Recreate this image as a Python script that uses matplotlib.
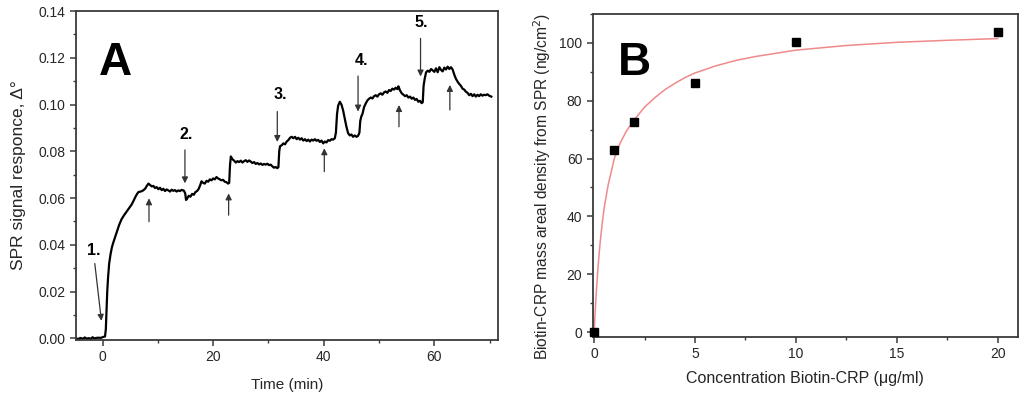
import matplotlib
matplotlib.use("Agg")
import matplotlib.pyplot as plt
from matplotlib.ticker import MultipleLocator, FormatStrFormatter

plt.rcParams['font.family'] = ['Liberation Sans', 'DejaVu Sans']

# ---------------------------------------------------------------
# Panel A: SPR sensorgram (time in min, signal in degrees)
# ---------------------------------------------------------------
time_min = [
    -4.8, -4.4, -4.0, -3.6, -3.2, -2.9, -2.5, -2.1, -1.8, -1.5, -1.1, -0.7, -0.3, 0.1, 0.45,
    0.6, 0.72, 0.85, 1.0, 1.2, 1.45, 1.7, 1.95, 2.3, 2.65, 3.0, 3.45, 3.9, 4.35, 4.8,
    5.25, 5.6, 5.9, 6.25, 6.5, 6.9, 7.3, 7.7, 8.0, 8.3, 8.6, 8.9, 9.2, 9.5, 9.8,
    10.1, 10.4, 10.7, 11.0, 11.3, 11.6, 11.9, 12.2, 12.5, 12.8, 13.1, 13.4, 13.7, 14.0, 14.3,
    14.7, 14.95, 15.1, 15.3, 15.6, 15.9, 16.2, 16.5, 16.8, 17.1, 17.4, 17.7, 17.9, 18.2, 18.5,
    18.8, 19.1, 19.4, 19.7, 20.0, 20.3, 20.6, 20.9, 21.2, 21.5, 21.8, 22.1, 22.4, 22.7, 22.9,
    23.05, 23.2, 23.5, 23.8, 24.1, 24.4, 24.7, 25.0, 25.3, 25.6, 25.9, 26.2, 26.5, 26.8, 27.1,
    27.4, 27.7, 28.0, 28.3, 28.6, 28.9, 29.2, 29.5, 29.8, 30.1, 30.4, 30.7, 31.0, 31.3, 31.6,
    31.8, 31.95, 32.1, 32.4, 32.7, 33.0, 33.3, 33.6, 33.9, 34.2, 34.5, 34.8, 35.1, 35.4, 35.7,
    36.0, 36.3, 36.6, 36.9, 37.2, 37.5, 37.8, 38.1, 38.4, 38.7, 39.0, 39.3, 39.6, 39.9, 40.2,
    40.5, 40.8, 41.1, 41.4, 41.7, 42.0, 42.2, 42.4, 42.6, 42.9, 43.2, 43.5, 43.8, 44.1, 44.4,
    44.7, 45.0, 45.3, 45.6, 45.9, 46.2, 46.45, 46.6, 46.8, 47.0, 47.3, 47.6, 47.9, 48.2, 48.5,
    48.8, 49.1, 49.4, 49.7, 50.0, 50.3, 50.6, 50.9, 51.2, 51.5, 51.8, 52.1, 52.4, 52.7, 53.0,
    53.3, 53.5, 53.8, 54.1, 54.4, 54.7, 55.0, 55.3, 55.6, 55.9, 56.2, 56.5, 56.8, 57.1, 57.4,
    57.7, 57.9, 58.05, 58.25, 58.5, 58.8, 59.1, 59.4, 59.7, 60.0, 60.3, 60.6, 60.9, 61.2, 61.5,
    61.8, 62.1, 62.4, 62.7, 63.0, 63.3, 63.6, 63.9, 64.2, 64.5, 64.8, 65.1, 65.4, 65.7, 66.0,
    66.3, 66.6, 66.9, 67.2, 67.5, 67.8, 68.1, 68.4, 68.7, 69.0, 69.3, 69.6, 69.9, 70.3,
]
spr_signal = [
    0.0000, -0.0003, 0.0002, -0.0002, 0.0004, -0.0001, 0.0001, -0.0002, 0.0005, 0.0000, 0.0002, 0.0003, 0.0002, 0.0006, 0.0008,
    0.0040, 0.0120, 0.0200, 0.0260, 0.0320, 0.0360, 0.0390, 0.0410, 0.0435, 0.0460, 0.0485, 0.0510, 0.0527, 0.0542, 0.0557,
    0.0572, 0.0588, 0.0603, 0.0618, 0.0626, 0.0628, 0.0632, 0.0640, 0.0652, 0.0662, 0.0656, 0.0650, 0.0652, 0.0643, 0.0647,
    0.0638, 0.0644, 0.0634, 0.0640, 0.0630, 0.0637, 0.0633, 0.0628, 0.0636, 0.0631, 0.0634, 0.0628, 0.0633, 0.0630, 0.0635,
    0.0632, 0.0620, 0.0592, 0.0598, 0.0610, 0.0606, 0.0618, 0.0614, 0.0626, 0.0630, 0.0640, 0.0658, 0.0672, 0.0665, 0.0662,
    0.0674, 0.0670, 0.0680, 0.0676, 0.0684, 0.0680, 0.0690, 0.0684, 0.0680, 0.0676, 0.0678, 0.0670, 0.0668, 0.0662, 0.0665,
    0.0740, 0.0778, 0.0766, 0.0760, 0.0752, 0.0758, 0.0754, 0.0760, 0.0752, 0.0758, 0.0762, 0.0755, 0.0761, 0.0756, 0.0750,
    0.0754, 0.0746, 0.0750, 0.0744, 0.0748, 0.0742, 0.0746, 0.0743, 0.0747, 0.0741, 0.0743, 0.0736, 0.0730, 0.0733, 0.0728,
    0.0732, 0.0800, 0.0822, 0.0826, 0.0834, 0.0830, 0.0842, 0.0848, 0.0858, 0.0862, 0.0856, 0.0862, 0.0852, 0.0858, 0.0850,
    0.0856, 0.0846, 0.0852, 0.0844, 0.0850, 0.0842, 0.0850, 0.0846, 0.0852, 0.0845, 0.0849, 0.0840, 0.0846, 0.0834, 0.0842,
    0.0838, 0.0848, 0.0845, 0.0852, 0.0850, 0.0856, 0.0880, 0.0960, 0.0995, 0.1012, 0.1000, 0.0975, 0.0940, 0.0905, 0.0878,
    0.0868, 0.0872, 0.0862, 0.0868, 0.0862, 0.0866, 0.0880, 0.0930, 0.0950, 0.0960, 0.0990, 0.1005, 0.1018, 0.1025, 0.1030,
    0.1026, 0.1036, 0.1040, 0.1034, 0.1044, 0.1048, 0.1042, 0.1052, 0.1056, 0.1050, 0.1062, 0.1058, 0.1068, 0.1064, 0.1072,
    0.1066, 0.1078, 0.1060, 0.1048, 0.1042, 0.1036, 0.1040, 0.1030, 0.1034, 0.1025, 0.1030, 0.1020, 0.1024, 0.1012, 0.1016,
    0.1006, 0.1010, 0.1080, 0.1110, 0.1138, 0.1145, 0.1140, 0.1152, 0.1146, 0.1140, 0.1155, 0.1138, 0.1160, 0.1148, 0.1142,
    0.1158, 0.1150, 0.1162, 0.1152, 0.1160, 0.1150, 0.1128, 0.1110, 0.1098, 0.1088, 0.1080, 0.1068, 0.1064, 0.1055, 0.1050,
    0.1040, 0.1046, 0.1036, 0.1044, 0.1034, 0.1042, 0.1036, 0.1044, 0.1038, 0.1042, 0.1040, 0.1044, 0.1038, 0.1034,
]

# numbered injection arrows (pointing down): label, x, arrow top, arrow tip
step_labels = ["1.", "2.", "3.", "4.", "5."]
step_text_x = [-1.5, 15.2, 32.2, 46.8, 57.7]
step_text_y = [0.0345, 0.0838, 0.1012, 0.1155, 0.1320]
step_tail_x = [-1.4, 14.9, 31.6, 46.2, 57.5]
step_tail_y = [0.0320, 0.0806, 0.0970, 0.1122, 0.1283]
step_tip_x = [-0.2, 14.9, 31.6, 46.2, 57.5]
step_tip_y = [0.0075, 0.0663, 0.0840, 0.0970, 0.1120]

# wash arrows (pointing up)
wash_x = [8.4, 22.8, 40.1, 53.6, 62.8]
wash_tail_y = [0.0499, 0.0527, 0.0713, 0.0905, 0.0977]
wash_tip_y = [0.0599, 0.0620, 0.0813, 0.0998, 0.1084]

# ---------------------------------------------------------------
# Panel B: binding isotherm
# ---------------------------------------------------------------
conc = [0, 1, 2, 5, 10, 20]
mass_density = [0, 62.8, 72.8, 86.0, 100.3, 103.7]

fit_conc = [0, 0.05, 0.1, 0.2, 0.3, 0.4, 0.5, 0.7, 1.0, 1.3, 1.6, 2.0, 2.5, 3.0, 3.5,
            4.0, 4.5, 5.0, 6.0, 7.0, 8.0, 10.0, 12.5, 15.0, 17.5, 20.0]
fit_mass = [0, 6.5, 13, 23, 31, 37.5, 43, 51, 60, 65.5, 69.5, 73.5, 77.8, 81.0, 83.8,
            86.0, 88.0, 89.6, 92.0, 93.9, 95.3, 97.5, 99.1, 100.2, 100.9, 101.5]

spine_col = '#3a3a3a'
text_col = '#262626'

fig = plt.figure(figsize=(10.24, 3.94), dpi=100)
axA = fig.add_axes([0.0742, 0.137, 0.4121, 0.835])
axB = fig.add_axes([0.5788, 0.1447, 0.4153, 0.8198])


def style_axes(ax):
    for s in ax.spines.values():
        s.set_color(spine_col)
        s.set_linewidth(1.3)
    ax.tick_params(which='both', direction='out', colors=spine_col, labelcolor=text_col,
                   top=False, right=False)
    ax.tick_params(which='major', length=4, width=1.1, labelsize=10)
    ax.tick_params(which='minor', length=2.5, width=1.0)


# --- A ---
axA.plot(time_min, spr_signal, color='black', lw=1.6)
axA.set_xlim(-4.8, 71.5)
axA.set_ylim(-0.0007, 0.14)
axA.xaxis.set_major_locator(MultipleLocator(20))
axA.xaxis.set_minor_locator(MultipleLocator(10))
axA.yaxis.set_major_locator(MultipleLocator(0.02))
axA.yaxis.set_minor_locator(MultipleLocator(0.01))
axA.yaxis.set_major_formatter(FormatStrFormatter('%.2f'))
style_axes(axA)
axA.set_xlabel("Time (min)", fontsize=11, color=text_col, labelpad=10)
axA.set_ylabel("SPR signal responce, \u0394\u00b0", fontsize=12.5, color=text_col, labelpad=9)

for lab, tx, ty, x0, y0, x1, y1 in zip(step_labels, step_text_x, step_text_y,
                                        step_tail_x, step_tail_y, step_tip_x, step_tip_y):
    axA.text(tx, ty, lab, fontsize=11.5, fontweight='bold', ha='center', va='bottom')
    axA.annotate("", xy=(x1, y1), xytext=(x0, y0),
                 arrowprops=dict(arrowstyle='-|>', color='#333333', lw=0.9,
                                 mutation_scale=9, shrinkA=0, shrinkB=0))

for x, y0, y1 in zip(wash_x, wash_tail_y, wash_tip_y):
    axA.annotate("", xy=(x, y1), xytext=(x, y0),
                 arrowprops=dict(arrowstyle='-|>', color='#333333', lw=0.9,
                                 mutation_scale=9, shrinkA=0, shrinkB=0))

axA.text(0.055, 0.805, "A", transform=axA.transAxes, fontsize=33, fontweight='bold',
         ha='left', va='baseline')

# --- B ---
axB.plot(fit_conc, fit_mass, color='#f08a8a', lw=1.1, zorder=2)
axB.plot(conc, mass_density, 's', color='black', markersize=5.5, zorder=3, clip_on=False)
axB.set_xlim(-0.07, 21)
axB.set_ylim(-1.7, 110)
axB.xaxis.set_major_locator(MultipleLocator(5))
axB.xaxis.set_minor_locator(MultipleLocator(2.5))
axB.yaxis.set_major_locator(MultipleLocator(20))
axB.yaxis.set_minor_locator(MultipleLocator(10))
style_axes(axB)
axB.set_xlabel("Concentration Biotin-CRP (\u03bcg/ml)", fontsize=11.5, color=text_col, labelpad=7)
axB.set_ylabel("Biotin-CRP mass areal density from SPR (ng/cm$^2$)", fontsize=11.2,
               color=text_col)
axB.yaxis.set_label_coords(-0.093, 0.465)
axB.text(0.06, 0.81, "B", transform=axB.transAxes, fontsize=33, fontweight='bold',
         ha='left', va='baseline')

fig.savefig("out.png", dpi=100)
